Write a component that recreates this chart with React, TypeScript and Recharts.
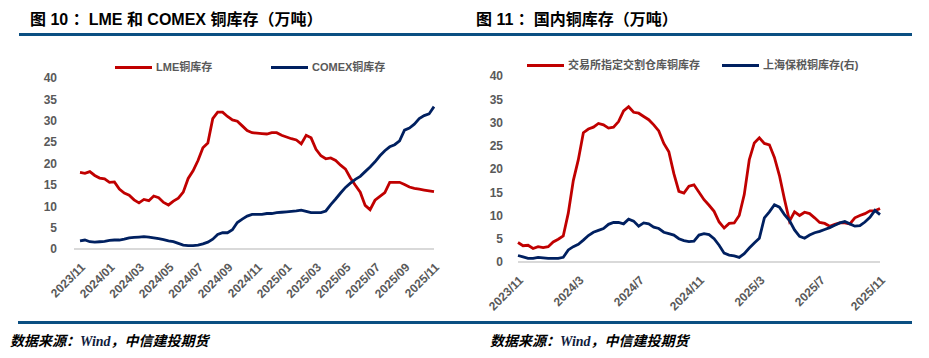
import { LineChart, Line, XAxis, YAxis } from 'recharts';

// months covered by both charts, three readings per month
const months = [
  '2023/11', '2023/12',
  '2024/01', '2024/02', '2024/03', '2024/04', '2024/05', '2024/06',
  '2024/07', '2024/08', '2024/09', '2024/10', '2024/11', '2024/12',
  '2025/01', '2025/02', '2025/03', '2025/04', '2025/05', '2025/06',
  '2025/07', '2025/08', '2025/09', '2025/10', '2025/11',
];
const dates = months.flatMap((m) => [`${m}/05`, `${m}/15`, `${m}/25`]).slice(0, 73);

const lmeStock = [
  17.9, 17.7, 18.1, 17.2, 16.6, 16.4, 15.6, 15.7, 14.0, 13.1,
  12.6, 11.5, 10.8, 11.6, 11.3, 12.4, 12.0, 10.9, 10.3, 11.2,
  11.9, 13.3, 16.5, 18.3, 20.7, 23.7, 24.8, 30.5, 32.0, 32.0,
  31.0, 30.2, 29.9, 28.8, 27.7, 27.2, 27.1, 27.0, 26.9, 27.2,
  27.2, 26.6, 26.2, 25.8, 25.5, 24.6, 26.6, 26.0, 23.3, 21.8,
  21.1, 21.3, 20.7, 19.6, 18.7, 16.6, 14.9, 13.3, 10.2, 9.2,
  11.4, 12.3, 13.2, 15.6, 15.6, 15.6, 15.1, 14.5, 14.2, 14.0,
  13.8, 13.6, 13.4,
];
const comexStock = [
  1.9, 2.1, 1.7, 1.6, 1.7, 1.8, 2.0, 2.1, 2.1, 2.3,
  2.6, 2.7, 2.8, 2.9, 2.8, 2.6, 2.4, 2.2, 1.9, 1.7,
  1.3, 0.9, 0.8, 0.8, 0.9, 1.2, 1.6, 2.3, 3.4, 3.8,
  3.8, 4.5, 6.2, 7.0, 7.7, 8.1, 8.1, 8.1, 8.3, 8.3,
  8.5, 8.6, 8.7, 8.8, 8.9, 9.1, 8.8, 8.5, 8.5, 8.5,
  8.9, 10.4, 11.7, 13.1, 14.4, 15.4, 16.3, 17.0, 18.1, 19.2,
  20.4, 21.8, 23.0, 23.9, 24.4, 25.3, 27.8, 28.3, 29.2, 30.5,
  31.2, 31.6, 33.3,
];
const exchangeStock = [
  4.2, 3.5, 3.6, 2.9, 3.3, 3.1, 3.3, 4.3, 4.9, 5.6,
  10.5, 17.5, 22.0, 27.8, 28.6, 29.0, 29.8, 29.5, 28.8, 29.0,
  30.2, 32.5, 33.4, 32.2, 32.0, 31.3, 30.6, 29.5, 28.2, 25.5,
  23.7, 19.0, 15.2, 14.8, 16.3, 16.6, 15.0, 13.4, 12.2, 10.9,
  8.6, 7.3, 8.3, 8.4, 10.0, 14.5, 22.0, 25.6, 26.7, 25.5,
  25.2, 22.5, 18.6, 13.5, 8.8, 10.8, 10.0, 10.7, 10.4, 9.5,
  8.5, 8.3, 7.7, 8.1, 8.4, 8.4, 8.2, 9.5, 10.0, 10.4,
  11.0, 11.0, 11.5,
];
const bondedStock = [
  1.4, 1.1, 0.8, 0.8, 1.0, 0.9, 0.8, 0.8, 0.8, 1.0,
  2.6, 3.3, 3.8, 4.7, 5.7, 6.4, 6.8, 7.2, 8.1, 8.5,
  8.5, 8.2, 9.2, 8.8, 7.7, 8.4, 8.2, 7.5, 7.2, 6.4,
  6.1, 5.8, 5.0, 4.6, 4.4, 4.5, 5.8, 6.1, 5.9, 5.0,
  3.6, 1.9, 1.5, 1.3, 1.0, 1.8, 3.0, 4.1, 5.1, 9.5,
  10.8, 12.3, 11.8, 10.2, 8.9, 6.9, 5.5, 5.1, 5.8, 6.3,
  6.6, 7.0, 7.4, 7.9, 8.4, 8.7, 8.2, 7.7, 7.8, 8.6,
  9.6, 11.1, 10.2,
];

const leftTickLabels = [
  '2023/11', '2024/01', '2024/03', '2024/05', '2024/07', '2024/09', '2024/11',
  '2025/01', '2025/03', '2025/05', '2025/07', '2025/09', '2025/11',
];
const rightTickLabels = ['2023/11', '2024/3', '2024/7', '2024/11', '2025/3', '2025/7', '2025/11'];
const rightTickIdx = [0, 12, 24, 36, 48, 60, 72];
const yTicks = [0, 5, 10, 15, 20, 25, 30, 35, 40];

const leftData = dates.map((d, i) => ({ date: d, lme: lmeStock[i], comex: comexStock[i] }));
const rightData = dates.map((d, i) => ({ date: d, exchange: exchangeStock[i], bonded: bondedStock[i] }));
const leftTicks = leftTickLabels.map((l) => `${l}/05`);
const rightTicks = rightTickIdx.map((i) => dates[i]);

const RED = '#c00000';
const NAVY = '#002060';
const RULE = '#0b4f82';
const GRAY = '#595959';
const FONT = '"Liberation Sans", Arial, "Noto Sans CJK SC", sans-serif';

const tickStyle = { fill: GRAY, fontSize: 12, fontWeight: 700, fontFamily: FONT };

const LegendItem = ({ x, y, color, label }: any) => (
  <div style={{ position: 'absolute', left: x, top: y, display: 'flex', alignItems: 'center', whiteSpace: 'nowrap' }}>
    <span style={{ display: 'inline-block', width: 37, height: 3, background: color }} />
    <span style={{ marginLeft: 4, fontSize: 11, fontWeight: 700, color: GRAY, fontFamily: FONT, lineHeight: '14px' }}>
      {label}
    </span>
  </div>
);

const Title = ({ x, text }: any) => (
  <div style={{ position: 'absolute', left: x, top: 10, fontSize: 16, fontWeight: 700, lineHeight: '20px', color: '#000', fontFamily: FONT, whiteSpace: 'nowrap' }}>
    {text}
  </div>
);

const Source = ({ x }: any) => (
  <div style={{ position: 'absolute', left: x, top: 331, fontSize: 14, fontWeight: 700, fontStyle: 'italic', lineHeight: '18px', color: '#000', fontFamily: '"Noto Sans CJK SC", sans-serif', whiteSpace: 'nowrap' }}>
    数据来源：<span style={{ fontFamily: '"Liberation Serif", serif', color: '#101c3c' }}>Wind</span>，中信建投期货
  </div>
);

export default function App() {
  return (
    <div style={{ position: 'absolute', left: 0, top: 0, width: 929, height: 358, background: '#fff', overflow: 'hidden' }}>
      <Title x={30} text="图 10 ：LME 和 COMEX 铜库存（万吨）" />
      <Title x={476} text="图 11 ：国内铜库存（万吨）" />
      <div style={{ position: 'absolute', left: 19, top: 33, width: 893, height: 3, background: RULE }} />

      <div style={{ position: 'absolute', left: 0, top: 0 }}>
        <LineChart width={465} height={309} data={leftData} margin={{ top: 78, right: 31, left: 0, bottom: 0 }}>
          <XAxis
            dataKey="date"
            ticks={leftTicks}
            interval={0}
            tickFormatter={(v: string) => v.slice(0, 7)}
            padding={{ left: 6, right: 0 }}
            height={60}
            angle={-45}
            textAnchor="end"
            tickSize={0}
            tickMargin={13}
            tick={tickStyle}
            axisLine={{ stroke: '#d9d9d9', strokeWidth: 2 }}
            tickLine={false}
          />
          <YAxis
            domain={[0, 40]}
            ticks={yTicks}
            width={74}
            tickSize={0}
            tickMargin={17}
            tick={tickStyle}
            axisLine={false}
            tickLine={false}
          />
          <Line type="linear" dataKey="lme" stroke={RED} strokeWidth={2.8} dot={false} isAnimationActive={false} />
          <Line type="linear" dataKey="comex" stroke={NAVY} strokeWidth={2.8} dot={false} isAnimationActive={false} />
        </LineChart>
      </div>

      <div style={{ position: 'absolute', left: 465, top: 0 }}>
        <LineChart width={464} height={322} data={rightData} margin={{ top: 76, right: 49, left: 0, bottom: 0 }}>
          <XAxis
            dataKey="date"
            ticks={rightTicks}
            interval={0}
            tickFormatter={(v: string) => rightTickLabels[rightTicks.indexOf(v)]}
            height={60}
            angle={-45}
            textAnchor="end"
            tickSize={0}
            tickMargin={13}
            tick={tickStyle}
            axisLine={{ stroke: '#d9d9d9', strokeWidth: 2 }}
            tickLine={false}
          />
          <YAxis
            yAxisId="left"
            domain={[0, 40]}
            ticks={yTicks}
            width={53}
            tickSize={0}
            tickMargin={15}
            tick={tickStyle}
            axisLine={false}
            tickLine={false}
          />
          <YAxis yAxisId="right" orientation="right" domain={[0, 40]} hide />
          <Line yAxisId="left" type="linear" dataKey="exchange" stroke={RED} strokeWidth={2.8} dot={false} isAnimationActive={false} />
          <Line yAxisId="right" type="linear" dataKey="bonded" stroke={NAVY} strokeWidth={2.8} dot={false} isAnimationActive={false} />
        </LineChart>
      </div>

      <LegendItem x={115} y={60} color={RED} label="LME铜库存" />
      <LegendItem x={271} y={60} color={NAVY} label="COMEX铜库存" />
      <LegendItem x={527} y={58} color={RED} label="交易所指定交割仓库铜库存" />
      <LegendItem x={722} y={58} color={NAVY} label="上海保税铜库存(右)" />

      <div style={{ position: 'absolute', left: 18, top: 321, width: 894, height: 3, background: RULE }} />
      <Source x={10} />
      <Source x={490} />
    </div>
  );
}
